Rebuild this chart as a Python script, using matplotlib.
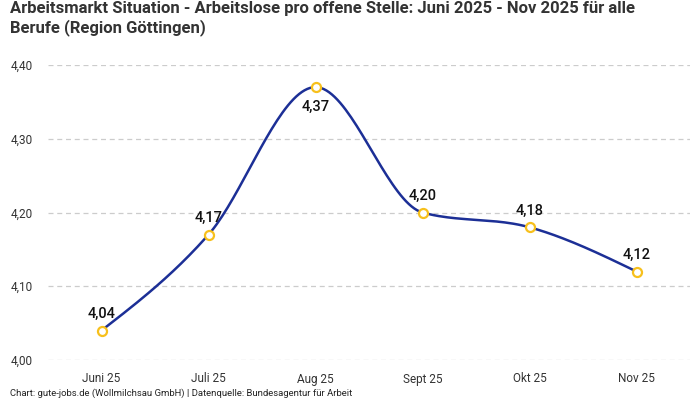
import numpy as np
import matplotlib
matplotlib.use("Agg")
import matplotlib.pyplot as plt
from matplotlib import font_manager

categories = ["Juni 25", "Juli 25", "Aug 25", "Sept 25", "Okt 25", "Nov 25"]
values = [4.04, 4.17, 4.37, 4.20, 4.18, 4.12]
y_ticks = [4.00, 4.10, 4.20, 4.30, 4.40]
title = "Arbeitsmarkt Situation - Arbeitslose pro offene Stelle: Juni 2025 - Nov 2025 für alle\nBerufe (Region Göttingen)"
footer = "Chart: gute-jobs.de (Wollmilchsau GmbH) | Datenquelle: Bundesagentur für Arbeit"

names = {f.name for f in font_manager.fontManager.ttflist}
title_font = "Liberation Sans Narrow" if "Liberation Sans Narrow" in names else "Roboto"
plt.rcParams['font.family'] = ['Roboto', 'DejaVu Sans']


def monotone_x(x, y, n=40):
    x = np.asarray(x, float); y = np.asarray(y, float)
    h = np.diff(x); s = np.diff(y) / h
    m = np.zeros_like(y)
    for i in range(1, len(y) - 1):
        if s[i-1] * s[i] <= 0:
            m[i] = 0
        else:
            p = (s[i-1] * h[i] + s[i] * h[i-1]) / (h[i-1] + h[i])
            m[i] = (np.sign(s[i-1]) + np.sign(s[i])) * min(abs(s[i-1]), abs(s[i]), 0.5 * abs(p))
    m[0] = (3 * s[0] - m[1]) / 2 if len(y) > 2 else s[0]
    m[-1] = (3 * s[-1] - m[-2]) / 2 if len(y) > 2 else s[-1]
    xs, ys = [], []
    for i in range(len(h)):
        t = np.linspace(0, 1, n)
        h00 = 2*t**3 - 3*t**2 + 1; h10 = t**3 - 2*t**2 + t
        h01 = -2*t**3 + 3*t**2; h11 = t**3 - t**2
        xs.append(x[i] + t * h[i])
        ys.append(h00*y[i] + h10*h[i]*m[i] + h01*y[i+1] + h11*h[i]*m[i+1])
    return np.concatenate(xs), np.concatenate(ys)


fig = plt.figure(figsize=(7, 4), dpi=100)
ax = fig.add_axes([48/700, 40/400, 642/700, 295/400])
x = np.arange(len(categories))
xs, ys = monotone_x(x, values)
ax.plot(xs, ys, color="#1c2f96", lw=1.8, zorder=3)
ax.plot(x, values, 'o', ms=6.5, mfc="white", mec="#f7c01c", mew=1.6, zorder=4)
for i, v in enumerate(values):
    below = i == int(np.argmax(values))
    ax.annotate(f"{v:.2f}".replace(".", ","), (i, v), xytext=(0, -9 if below else 7),
                textcoords="offset points", ha="center", va="top" if below else "bottom",
                fontsize=10.5, fontweight="medium", color="#111111", zorder=5)

ax.set_xlim(-0.5, len(categories) - 0.5)
ax.set_ylim(4.00, 4.40)
ax.set_yticks(y_ticks)
ax.set_yticklabels([f"{t:.2f}".replace(".", ",") for t in y_ticks])
ax.set_xticks(x)
ax.set_xticklabels(categories)
ax.tick_params(axis='both', length=0, labelsize=8.5, colors="#333333")
ax.tick_params(axis='x', pad=9)
ax.tick_params(axis='y', pad=11)
ax.grid(axis='y', color="#cccccc", ls=(0, (4, 3)), lw=0.9)
for sp in ax.spines.values():
    sp.set_visible(False)

fig.text(10/700, 1 - 1/400, title, ha="left", va="top", fontsize=12, fontweight="bold",
         family=[title_font, 'DejaVu Sans'], color="#333333", linespacing=1.25)
fig.text(10/700, 1 - 393/400, footer, ha="left", va="center", fontsize=6.8, color="#222222")

fig.savefig("out.png", dpi=100, facecolor="white")
